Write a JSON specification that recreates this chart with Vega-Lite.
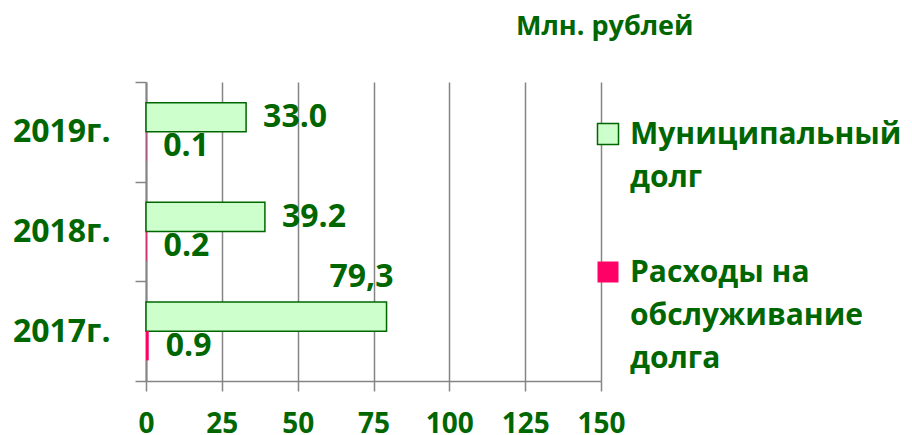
{
  "$schema": "https://vega.github.io/schema/vega-lite/v6.json",
  "autosize": {"type": "none"},
  "padding": {"left": 146, "top": 82, "right": 311, "bottom": 54},
  "width": 455,
  "height": 299,
  "background": "white",
  "title": {
    "text": "Млн. рублей",
    "anchor": "start",
    "frame": "group",
    "dx": 370,
    "offset": 25,
    "font": "Open Sans",
    "fontSize": 27,
    "fontWeight": "bold",
    "color": "#006600"
  },
  "config": {
    "view": {"stroke": null},
    "font": "Open Sans"
  },
  "data": {
    "values": [
      {"year": "2019г.", "series": "Муниципальный долг", "value": 33.0, "label": "33.0"},
      {"year": "2019г.", "series": "Расходы на обслуживание долга", "value": 0.1, "label": "0.1"},
      {"year": "2018г.", "series": "Муниципальный долг", "value": 39.2, "label": "39.2"},
      {"year": "2018г.", "series": "Расходы на обслуживание долга", "value": 0.2, "label": "0.2"},
      {"year": "2017г.", "series": "Муниципальный долг", "value": 79.3, "label": "79,3"},
      {"year": "2017г.", "series": "Расходы на обслуживание долга", "value": 0.9, "label": "0.9"}
    ]
  },
  "encoding": {
    "y": {
      "field": "year",
      "type": "nominal",
      "sort": ["2019г.", "2018г.", "2017г."],
      "scale": {"paddingInner": 0, "paddingOuter": 0},
      "axis": {
        "title": null,
        "tickBand": "extent",
        "tickSize": 11,
        "tickColor": "#858585",
        "tickWidth": 1.5,
        "domainColor": "#858585",
        "domainWidth": 2,
        "labelPadding": 25,
        "labelFont": "Open Sans",
        "labelFontSize": 32,
        "labelFontWeight": "bold",
        "labelColor": "#006600",
        "grid": false
      }
    },
    "yOffset": {
      "field": "series",
      "type": "nominal",
      "sort": ["Муниципальный долг", "Расходы на обслуживание долга"],
      "scale": {"paddingInner": 0, "paddingOuter": 0.707}
    },
    "x": {
      "field": "value",
      "type": "quantitative",
      "scale": {"domain": [0, 150], "nice": false},
      "axis": {
        "title": null,
        "values": [0, 25, 50, 75, 100, 125, 150],
        "grid": true,
        "gridColor": "#858585",
        "gridWidth": 1.5,
        "domainColor": "#858585",
        "domainWidth": 1.5,
        "tickColor": "#858585",
        "tickWidth": 1.5,
        "tickSize": 10,
        "labelPadding": 19,
        "labelFont": "Open Sans",
        "labelFontSize": 28,
        "labelFontWeight": "bold",
        "labelColor": "#006600",
        "labelFlush": false
      }
    }
  },
  "layer": [
    {
      "mark": {"type": "bar", "strokeWidth": 1.5},
      "encoding": {
        "fill": {
          "field": "series",
          "type": "nominal",
          "scale": {"domain": ["Муниципальный долг", "Расходы на обслуживание долга"], "range": ["#CCFFCC", "#FF0066"]},
          "legend": {
            "title": null,
            "orient": "none",
            "legendX": 447,
            "legendY": 37,
            "symbolType": "square",
            "symbolSize": 441,
            "symbolStrokeWidth": 1.5,
            "labelFont": "Open Sans",
            "labelFontSize": 30,
            "labelFontWeight": "bold",
            "labelColor": "#006600",
            "labelLimit": 400,
            "labelOffset": 7,
            "labelBaseline": "alphabetic",
            "rowPadding": 64,
            "labelExpr": "datum.label == 'Муниципальный долг' ? ['Муниципальный', 'долг'] : ['Расходы на', 'обслуживание', 'долга']",
            "encode": {
              "labels": {"update": {"lineHeight": {"value": 43}, "dy": {"value": 10}}}
            }
          }
        },
        "stroke": {
          "field": "series",
          "type": "nominal",
          "scale": {"domain": ["Муниципальный долг", "Расходы на обслуживание долга"], "range": ["#006600", "transparent"]},
          "legend": null
        }
      }
    },
    {
      "transform": [{"filter": "!(datum.year == '2017г.' && datum.series == 'Муниципальный долг')"}],
      "mark": {"type": "text", "align": "left", "baseline": "middle", "dx": 17, "font": "Open Sans", "fontSize": 32, "fontWeight": "bold", "color": "#006600"},
      "encoding": {"text": {"field": "label"}}
    },
    {
      "transform": [{"filter": "datum.year == '2017г.' && datum.series == 'Муниципальный долг'"}],
      "mark": {"type": "text", "align": "right", "baseline": "middle", "dx": 7, "dy": -40, "font": "Open Sans", "fontSize": 32, "fontWeight": "bold", "color": "#006600"},
      "encoding": {"text": {"field": "label"}}
    }
  ]
}
